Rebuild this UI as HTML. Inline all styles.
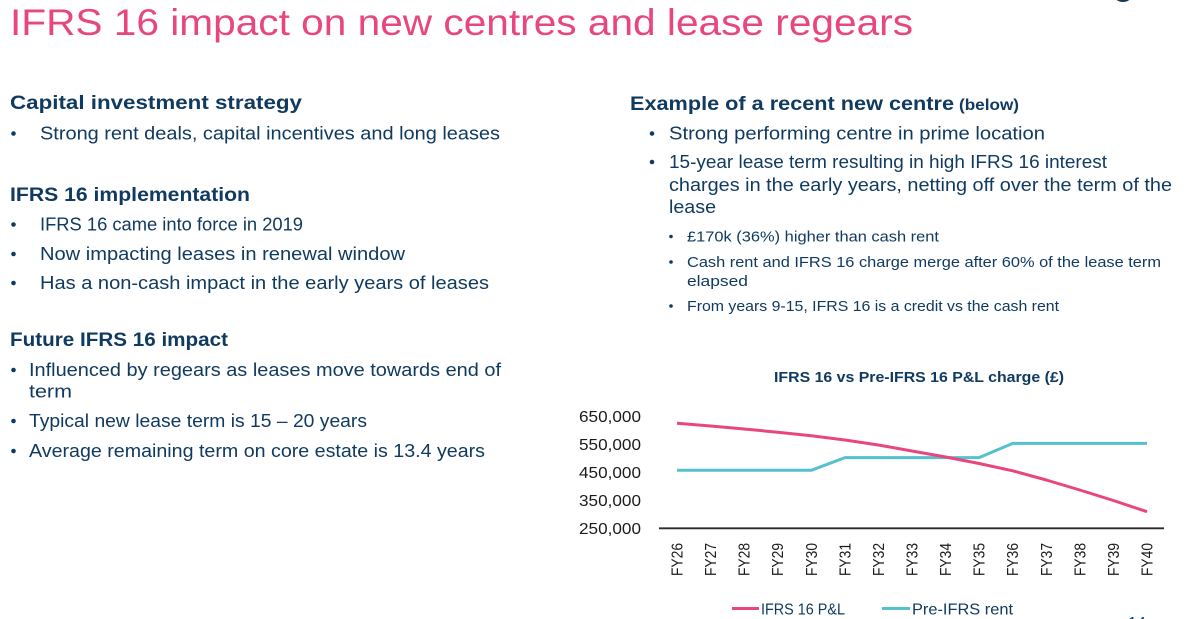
<!DOCTYPE html>
<html>
<head>
<meta charset="utf-8">
<style>
  html,body{margin:0;padding:0;background:#ffffff;}
  body{width:1186px;height:619px;overflow:hidden;}
  svg{display:block;}
  .t{font-family:"Liberation Sans",Arial,sans-serif;}
</style>
</head>
<body>
<svg width="1186" height="619" viewBox="0 0 1186 619" xmlns="http://www.w3.org/2000/svg">
  <rect width="1186" height="619" fill="#ffffff"/>
  <!-- top-right partial logo -->
  <ellipse cx="1123" cy="-5" rx="9" ry="7" fill="#103a60"/>

  <!-- Title -->
  <text class="t" x="10" y="35" font-size="37" fill="#e8467f" textLength="903" lengthAdjust="spacingAndGlyphs">IFRS 16 impact on new centres and lease regears</text>

  <g class="t" fill="#103a60">
    <!-- Left column -->
    <text x="10" y="109" font-size="19.5" font-weight="bold" textLength="292" lengthAdjust="spacingAndGlyphs">Capital investment strategy</text>
    <circle cx="13.5" cy="133.5" r="2.3"/>
    <text x="40" y="139.5" font-size="18" textLength="460" lengthAdjust="spacingAndGlyphs">Strong rent deals, capital incentives and long leases</text>

    <text x="10" y="201" font-size="19.5" font-weight="bold" textLength="240" lengthAdjust="spacingAndGlyphs">IFRS 16 implementation</text>
    <circle cx="13.5" cy="224.5" r="2.3"/>
    <text x="40" y="230.5" font-size="18" textLength="263" lengthAdjust="spacingAndGlyphs">IFRS 16 came into force in 2019</text>
    <circle cx="13.5" cy="254" r="2.3"/>
    <text x="40" y="260" font-size="18" textLength="365" lengthAdjust="spacingAndGlyphs">Now impacting leases in renewal window</text>
    <circle cx="13.5" cy="283" r="2.3"/>
    <text x="40" y="289" font-size="18" textLength="449" lengthAdjust="spacingAndGlyphs">Has a non-cash impact in the early years of leases</text>

    <text x="10" y="346" font-size="19.5" font-weight="bold" textLength="218" lengthAdjust="spacingAndGlyphs">Future IFRS 16 impact</text>
    <circle cx="13.5" cy="370" r="2.3"/>
    <text x="29" y="376" font-size="18" textLength="472" lengthAdjust="spacingAndGlyphs">Influenced by regears as leases move towards end of</text>
    <text x="29" y="397.5" font-size="18" textLength="43" lengthAdjust="spacingAndGlyphs">term</text>
    <circle cx="13.5" cy="421" r="2.3"/>
    <text x="29" y="427" font-size="18" textLength="338" lengthAdjust="spacingAndGlyphs">Typical new lease term is 15 – 20 years</text>
    <circle cx="13.5" cy="451" r="2.3"/>
    <text x="29" y="457" font-size="18" textLength="456" lengthAdjust="spacingAndGlyphs">Average remaining term on core estate is 13.4 years</text>

    <!-- Right column -->
    <text x="630" y="110" font-size="19.5" font-weight="bold" textLength="324" lengthAdjust="spacingAndGlyphs">Example of a recent new centre</text>
    <text x="959" y="110" font-size="16" font-weight="bold" textLength="60" lengthAdjust="spacingAndGlyphs">(below)</text>

    <circle cx="652" cy="133.5" r="2.3"/>
    <text x="669" y="139.5" font-size="18" textLength="376" lengthAdjust="spacingAndGlyphs">Strong performing centre in prime location</text>
    <circle cx="652" cy="162" r="2.3"/>
    <text x="669" y="168" font-size="18" textLength="438" lengthAdjust="spacingAndGlyphs">15-year lease term resulting in high IFRS 16 interest</text>
    <text x="669" y="191" font-size="18" textLength="503" lengthAdjust="spacingAndGlyphs">charges in the early years, netting off over the term of the</text>
    <text x="669" y="213" font-size="18" textLength="47" lengthAdjust="spacingAndGlyphs">lease</text>

    <circle cx="671" cy="236.5" r="1.8"/>
    <text x="687" y="241.5" font-size="15" textLength="252" lengthAdjust="spacingAndGlyphs">£170k (36%) higher than cash rent</text>
    <circle cx="671" cy="262" r="1.8"/>
    <text x="687" y="267" font-size="15" textLength="474" lengthAdjust="spacingAndGlyphs">Cash rent and IFRS 16 charge merge after 60% of the lease term</text>
    <text x="687" y="286" font-size="15" textLength="61" lengthAdjust="spacingAndGlyphs">elapsed</text>
    <circle cx="671" cy="306" r="1.8"/>
    <text x="687" y="311" font-size="15" textLength="372" lengthAdjust="spacingAndGlyphs">From years 9-15, IFRS 16 is a credit vs the cash rent</text>

    <!-- Chart title -->
    <text x="774" y="382" font-size="15" font-weight="bold" textLength="290" lengthAdjust="spacingAndGlyphs">IFRS 16 vs Pre-IFRS 16 P&amp;L charge (£)</text>
  </g>

  <!-- Y axis labels -->
  <g class="t" font-size="16" fill="#1a1a1a">
    <text x="579" y="421.8" textLength="62" lengthAdjust="spacingAndGlyphs">650,000</text>
    <text x="579" y="449.8" textLength="62" lengthAdjust="spacingAndGlyphs">550,000</text>
    <text x="579" y="477.8" textLength="62" lengthAdjust="spacingAndGlyphs">450,000</text>
    <text x="579" y="505.8" textLength="62" lengthAdjust="spacingAndGlyphs">350,000</text>
    <text x="579" y="533.8" textLength="62" lengthAdjust="spacingAndGlyphs">250,000</text>
  </g>

  <!-- Axis line -->
  <line x1="659" y1="528.3" x2="1164" y2="528.3" stroke="#2a2a2a" stroke-width="1.8"/>

  <!-- X labels (rotated) -->
  <g class="t" font-size="16" fill="#1a1a1a">
    <text transform="translate(682.5,576) rotate(-90)" textLength="33" lengthAdjust="spacingAndGlyphs">FY26</text>
    <text transform="translate(716.1,576) rotate(-90)" textLength="33" lengthAdjust="spacingAndGlyphs">FY27</text>
    <text transform="translate(749.6,576) rotate(-90)" textLength="33" lengthAdjust="spacingAndGlyphs">FY28</text>
    <text transform="translate(783.2,576) rotate(-90)" textLength="33" lengthAdjust="spacingAndGlyphs">FY29</text>
    <text transform="translate(816.8,576) rotate(-90)" textLength="33" lengthAdjust="spacingAndGlyphs">FY30</text>
    <text transform="translate(850.4,576) rotate(-90)" textLength="33" lengthAdjust="spacingAndGlyphs">FY31</text>
    <text transform="translate(883.9,576) rotate(-90)" textLength="33" lengthAdjust="spacingAndGlyphs">FY32</text>
    <text transform="translate(917.5,576) rotate(-90)" textLength="33" lengthAdjust="spacingAndGlyphs">FY33</text>
    <text transform="translate(951.1,576) rotate(-90)" textLength="33" lengthAdjust="spacingAndGlyphs">FY34</text>
    <text transform="translate(984.6,576) rotate(-90)" textLength="33" lengthAdjust="spacingAndGlyphs">FY35</text>
    <text transform="translate(1018.2,576) rotate(-90)" textLength="33" lengthAdjust="spacingAndGlyphs">FY36</text>
    <text transform="translate(1051.8,576) rotate(-90)" textLength="33" lengthAdjust="spacingAndGlyphs">FY37</text>
    <text transform="translate(1085.3,576) rotate(-90)" textLength="33" lengthAdjust="spacingAndGlyphs">FY38</text>
    <text transform="translate(1118.9,576) rotate(-90)" textLength="33" lengthAdjust="spacingAndGlyphs">FY39</text>
    <text transform="translate(1152.5,576) rotate(-90)" textLength="33" lengthAdjust="spacingAndGlyphs">FY40</text>
  </g>

  <!-- Series: Pre-IFRS rent (teal) -->
  <polyline fill="none" stroke="#55c1ce" stroke-width="3" stroke-linejoin="round" stroke-linecap="butt"
    points="677,470.3 710.6,470.3 744.1,470.3 777.7,470.3 811.3,470.3 844.9,457.6 878.4,457.6 912,457.6 945.6,457.6 979.1,457.6 1012.7,443.4 1046.3,443.4 1079.8,443.4 1113.4,443.4 1147,443.4"/>

  <!-- Series: IFRS 16 P&L (pink) -->
  <polyline fill="none" stroke="#e8467f" stroke-width="3" stroke-linejoin="round" stroke-linecap="butt"
    points="677,423.3 710.6,426 744.1,429 777.7,432.2 811.3,435.8 844.9,440 878.4,445 912,451 945.6,457 979.1,463.5 1012.7,470.8 1046.3,480 1079.8,490 1113.4,500.5 1147,511.7"/>

  <!-- Legend -->
  <line x1="732" y1="608.5" x2="759" y2="608.5" stroke="#e8467f" stroke-width="3"/>
  <text class="t" x="761" y="614.5" font-size="16" fill="#103a60" textLength="84" lengthAdjust="spacingAndGlyphs">IFRS 16 P&amp;L</text>
  <line x1="882" y1="608.5" x2="910" y2="608.5" stroke="#55c1ce" stroke-width="3"/>
  <text class="t" x="912" y="614.5" font-size="16" fill="#103a60" textLength="101" lengthAdjust="spacingAndGlyphs">Pre-IFRS rent</text>

  <!-- page number (partially visible) -->
  <text class="t" x="1128" y="628" font-size="16" fill="#103a60">14</text>
</svg>
</body>
</html>
